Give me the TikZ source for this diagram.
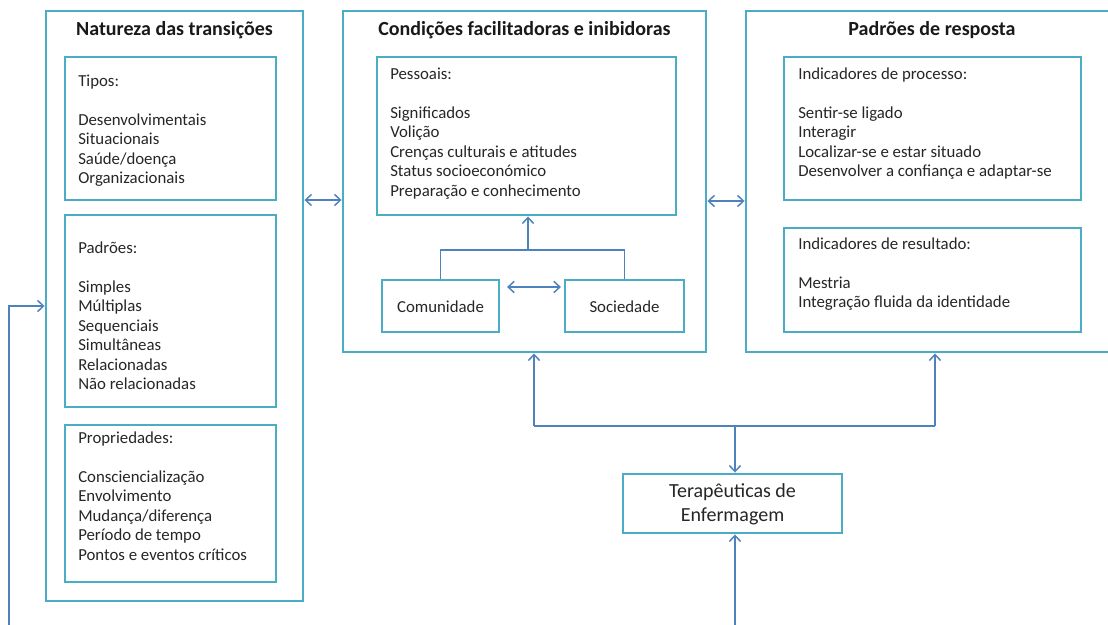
\documentclass[tikz,border=0pt]{standalone}
\usepackage{fontspec}
\setmainfont{Carlito}
\usetikzlibrary{arrows.meta}
\definecolor{boxc}{HTML}{4BACC6}
\definecolor{arrc}{HTML}{4F81BD}
\tikzset{
  box/.style={draw=boxc, line width=2.2pt, inner sep=0pt, fill=white},
  txt/.style={font=\fontsize{12.6}{14.6}\selectfont, align=left, inner sep=0pt, anchor=north west, text=black!85},
  ttl/.style={font=\fontsize{15}{18}\selectfont\bfseries, inner sep=0pt, anchor=base, text=black!90},
  ln/.style={draw=arrc, line width=1.1pt},
  arr/.style={ln, -{Straight Barb[length=4.5pt,width=8.5pt,line width=1.1pt]}},
  darr/.style={ln, {Straight Barb[length=4.5pt,width=8.5pt,line width=1.1pt]}-{Straight Barb[length=4.5pt,width=8.5pt,line width=1.1pt]}},
}
\newcommand\mkbox[5]{\node[box, minimum width={(#4-#2)*0.75pt}, minimum height={(#5-#3)*0.75pt}] (#1) at ({(#2+#4)/2},{(#3+#5)/2}) {};}
\begin{document}
\begin{tikzpicture}[x=0.75pt,y=-0.75pt]
\useasboundingbox (0,0) rectangle (1108,625);
\clip (0,0) rectangle (1108,625);
% outer boxes
\mkbox{b1}{46}{11}{303}{601}
\mkbox{b2}{343}{11}{706}{352}
\mkbox{b3}{746}{11}{1118}{352}
% inner boxes
\mkbox{tip}{65}{57}{276}{200}
\mkbox{pad}{65}{215}{276}{407}
\mkbox{pro}{65}{425}{276}{582}
\mkbox{pes}{377}{57}{676}{215}
\mkbox{com}{382}{280}{499}{332}
\mkbox{soc}{565}{280}{684}{332}
\mkbox{ipr}{784}{57}{1081}{200}
\mkbox{ire}{784}{228}{1081}{332}
\mkbox{ter}{623}{474}{842}{533}
% titles
\node[ttl] (t1) at (174.5,35) {Natureza das transições};
\node[ttl] (t2) at (524.5,35) {Condições\ facilitadoras\ e inibidoras};
\node[ttl] (t3) at (932,35) {Padrões de resposta};
% texts
\node[txt] (xtip) at (78,74.5) {Tipos:\\\mbox{}\\Desenvolvimentais\\Situacionais\\Saúde/doença\\Organizacionais};
\node[txt] (xpad) at (78,241.5) {Padrões:\\\mbox{}\\Simples\\Múltiplas\\Sequenciais\\Simultâneas\\Relacionadas\\Não relacionadas};
\node[txt] (xpro) at (78,431.5) {Propriedades:\\\mbox{}\\Consciencialização\\Envolvimento\\Mudança/diferença\\Período de tempo\\Pontos e eventos críticos};
\node[txt] (xpes) at (390,67.5) {Pessoais:\\\mbox{}\\Significados\\Volição\\Crenças culturais e atitudes\\Status socioeconómico\\Preparação e conhecimento};
\node[txt] (xipr) at (798,67.5) {Indicadores de processo:\\\mbox{}\\Sentir-se ligado\\Interagir\\Localizar-se e estar situado\\Desenvolver a confiança e adaptar-se};
\node[txt] (xire) at (798,237.5) {Indicadores de resultado:\\\mbox{}\\Mestria\\Integração fluida da identidade};
\node[font=\fontsize{12.6}{14.6}\selectfont, text=black!85] (xcom) at (440.5,307) {Comunidade};
\node[font=\fontsize{12.6}{14.6}\selectfont, text=black!85] (xsoc) at (624.5,307) {Sociedade};
\node[font=\fontsize{15}{18}\selectfont, align=center, text=black!85] (xter) at (732.5,504) {Terapêuticas de\\Enfermagem};
% connectors
\draw[darr] (b1.east |- 0,200) -- (b2.west |- 0,200);
\draw[darr] (b2.east |- 0,201) -- (b3.west |- 0,201);
\draw[darr, shorten <=5pt, shorten >=2pt] (com.east |- 0,287) -- (soc.west |- 0,287);
\coordinate (j) at (528,250);
\draw[ln] (com.north) |- (j) -| (soc.north);
\draw[arr] (j) -- (pes.south -| j);
\coordinate (t) at (735,426);
\coordinate (tl) at (534,426);
\coordinate (tr) at (935,426);
\draw[ln] (tl) -- (tr);
\draw[arr] (t) -- (ter.north -| t);
\draw[arr] (tl) -- (b2.south -| tl);
\draw[arr] (tr) -- (b3.south -| tr);
\coordinate (bot) at (735,626);
\draw[arr] (bot) -- (ter.south -| bot);
\coordinate (lb) at (9,626);
\draw[arr] (lb) |- (b1.west |- 0,306);
\end{tikzpicture}
\end{document}
